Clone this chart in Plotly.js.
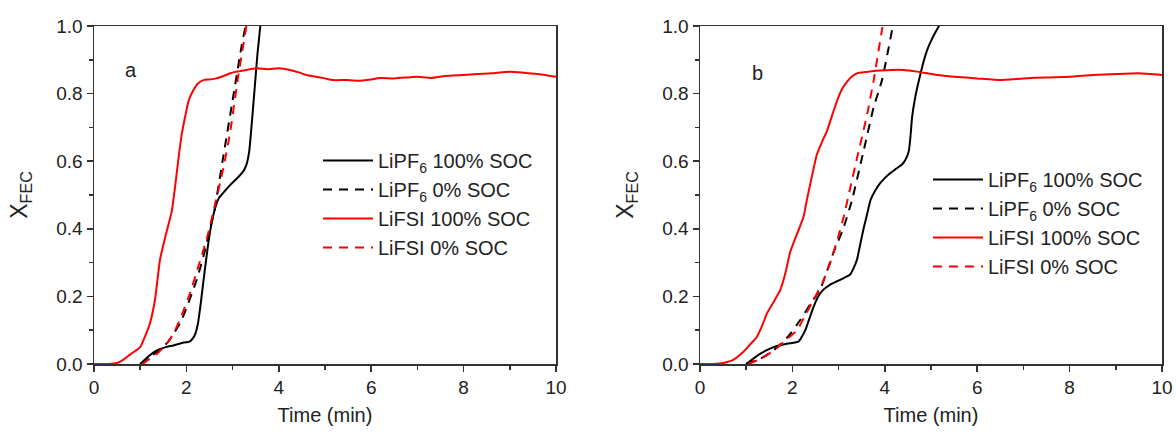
<!DOCTYPE html>
<html><head><meta charset="utf-8">
<script src="https://cdn.plot.ly/plotly-3.0.1.min.js"></script>
<style>html,body{margin:0;padding:0;background:#fff}#chart{width:1176px;height:432px}</style>
</head><body><div id="chart"></div>
<script>
// ---- Panel a ----
const aPF100_t = [1.0,1.2,1.36,1.55,1.72,1.9,2.08,2.18,2.25,2.32,2.4,2.51,2.6,2.7,2.82,2.95,3.1,3.23,3.3,3.36,3.42,3.48,3.54,3.6,3.62];
const aPF100_y = [0,0.025,0.04,0.05,0.055,0.062,0.067,0.085,0.12,0.19,0.28,0.39,0.45,0.49,0.51,0.53,0.55,0.57,0.59,0.63,0.72,0.82,0.92,1.0,1.03];
const aPF0_t = [1.0,1.2,1.4,1.6,1.86,2.0,2.2,2.29,2.4,2.51,2.6,2.8,3.0,3.2,3.28,3.32];
const aPF0_y = [0,0.02,0.04,0.065,0.12,0.165,0.24,0.28,0.335,0.40,0.45,0.615,0.78,0.945,1.0,1.03];
const aFS100_t = [0,0.3,0.5,0.63,0.8,1.0,1.1,1.21,1.32,1.43,1.55,1.68,1.76,1.83,1.9,1.97,2.05,2.15,2.25,2.37,2.5,2.65,2.8,2.95,3.09,3.3,3.52,3.75,4.0,4.24,4.45,4.6,4.8,5.0,5.17,5.46,5.7,6.0,6.19,6.5,6.8,7.0,7.3,7.6,8.0,8.3,8.6,9.0,9.3,9.6,10];
const aFS100_y = [0,0,0.003,0.012,0.03,0.05,0.08,0.12,0.19,0.31,0.38,0.45,0.53,0.61,0.68,0.73,0.78,0.81,0.83,0.84,0.842,0.845,0.852,0.86,0.865,0.87,0.875,0.872,0.875,0.87,0.862,0.855,0.85,0.845,0.84,0.84,0.838,0.842,0.846,0.845,0.848,0.85,0.846,0.852,0.855,0.858,0.86,0.865,0.862,0.858,0.85];
const aFS0_t = [1.05,1.2,1.4,1.57,1.72,1.9,2.08,2.25,2.44,2.6,2.8,2.94,3.12,3.3,3.34];
const aFS0_y = [0,0.015,0.035,0.06,0.09,0.145,0.21,0.285,0.37,0.46,0.58,0.68,0.85,1.0,1.03];
// ---- Panel b ----
const bPF100_t = [1.0,1.3,1.59,1.88,2.13,2.2,2.28,2.37,2.46,2.56,2.67,2.82,2.97,3.12,3.25,3.33,3.4,3.47,3.54,3.62,3.69,3.8,3.9,4.0,4.12,4.25,4.37,4.45,4.52,4.56,4.59,4.66,4.74,4.83,4.92,5.05,5.17,5.22];
const bPF100_y = [0,0.03,0.05,0.06,0.066,0.08,0.10,0.135,0.17,0.2,0.22,0.235,0.245,0.255,0.265,0.285,0.31,0.355,0.40,0.445,0.485,0.515,0.535,0.55,0.565,0.578,0.59,0.605,0.63,0.68,0.73,0.79,0.84,0.89,0.93,0.97,1.0,1.02];
const bPF0_t = [1.0,1.3,1.59,1.9,2.17,2.4,2.6,2.89,3.1,3.29,3.54,3.76,3.94,4.16,4.2];
const bPF0_y = [0,0.015,0.04,0.08,0.13,0.18,0.22,0.33,0.40,0.485,0.63,0.76,0.84,0.99,1.02];
const bFS100_t = [0,0.3,0.5,0.72,0.94,1.1,1.23,1.35,1.45,1.6,1.74,1.85,1.95,2.1,2.24,2.32,2.39,2.53,2.65,2.75,2.87,2.97,3.08,3.18,3.3,3.4,3.6,3.9,4.15,4.41,4.7,5.13,5.5,6.0,6.5,7.0,7.5,8.0,8.5,9.0,9.5,10];
const bFS100_y = [0,0,0.003,0.012,0.036,0.06,0.08,0.115,0.15,0.185,0.22,0.27,0.33,0.385,0.435,0.49,0.535,0.62,0.66,0.69,0.74,0.78,0.815,0.835,0.852,0.86,0.864,0.868,0.87,0.87,0.865,0.855,0.85,0.845,0.84,0.845,0.848,0.85,0.855,0.858,0.86,0.855];
const bFS0_t = [1.05,1.3,1.6,1.85,2.1,2.3,2.46,2.65,2.82,3.0,3.11,3.25,3.4,3.52,3.62,3.76,3.94,3.98];
const bFS0_y = [0,0.015,0.04,0.07,0.10,0.15,0.19,0.24,0.30,0.38,0.435,0.52,0.61,0.68,0.74,0.84,0.99,1.02];

const names = ['LiPF<sub>6</sub> 100% SOC','LiPF<sub>6</sub> 0% SOC','LiFSI 100% SOC','LiFSI 0% SOC'];
const colors = ['#000000','#000000','#ff0000','#ff0000'];
const dashes = ['solid','9px,7px','solid','9px,7px'];
const panels = [
  {xa:'x', ya:'y', lg:'legend', data:[[aPF100_t,aPF100_y],[aPF0_t,aPF0_y],[aFS100_t,aFS100_y],[aFS0_t,aFS0_y]]},
  {xa:'x2', ya:'y2', lg:'legend2', data:[[bPF100_t,bPF100_y],[bPF0_t,bPF0_y],[bFS100_t,bFS100_y],[bFS0_t,bFS0_y]]}
];
const traces = [];
panels.forEach((p,pi)=>{
  p.data.forEach((d,i)=>{
    traces.push({x:d[0], y:d[1], type:'scatter', mode:'lines', name:names[i],
      xaxis:p.xa, yaxis:p.ya, legend:p.lg,
      line:{color:colors[i], width:2, dash:dashes[i], shape:'spline', smoothing:0.5}, hoverinfo:'skip'});
  });
});

const fontFam = '"Liberation Sans", Arial, sans-serif';
const axX = (dom)=>({domain:dom, range:[0,10], dtick:2, tick0:0, ticks:'outside', ticklen:6, tickwidth:1.5, tickcolor:'#333',
  minor:{dtick:1, ticks:'outside', ticklen:4, tickwidth:1.5, tickcolor:'#333'},
  showline:true, linecolor:'#333', linewidth:1.5, mirror:true, showgrid:false, zeroline:false,
  tickfont:{size:19, color:'#222', family:fontFam},
  title:{text:'Time (min)', font:{size:20, color:'#222', family:fontFam}, standoff:10}});
const axY = (anchor)=>({domain:[0,1], range:[0,1], dtick:0.2, tick0:0, tickformat:'.1f', ticks:'outside', ticklen:6, tickwidth:1.5, tickcolor:'#333',
  minor:{dtick:0.1, ticks:'outside', ticklen:4, tickwidth:1.5, tickcolor:'#333'},
  showline:true, linecolor:'#333', linewidth:1.5, mirror:true, showgrid:false, zeroline:false, anchor:anchor,
  tickfont:{size:19, color:'#222', family:fontFam},
  title:{text:'X<sub>FEC</sub>', font:{size:23, color:'#222', family:fontFam}, standoff:22}});

const legendBase = {bgcolor:'rgba(0,0,0,0)', font:{size:20, color:'#222', family:fontFam}, traceorder:'normal', tracegroupgap:0, itemwidth:50, xanchor:'left', yanchor:'top'};
const layout = {
  width:1176, height:432, margin:{l:0, r:0, t:26, b:68}, paper_bgcolor:'#fff', plot_bgcolor:'#fff',
  font:{family:fontFam, color:'#222'},
  xaxis: Object.assign(axX([94/1176, 556/1176]), {anchor:'y'}),
  yaxis: axY('x'),
  xaxis2: Object.assign(axX([700/1176, 1162/1176]), {anchor:'y2'}),
  yaxis2: axY('x2'),
  legend: Object.assign({}, legendBase, {x:318/1176, y:(364-141)/338}),
  legend2: Object.assign({}, legendBase, {x:928/1176, y:(364-160)/338}),
  annotations:[
    {text:'a', x:0.8, y:0.87, xref:'x', yref:'y', showarrow:false, font:{size:20, color:'#222', family:fontFam}},
    {text:'b', x:1.24, y:0.86, xref:'x2', yref:'y2', showarrow:false, font:{size:20, color:'#222', family:fontFam}}
  ],
  showlegend:true
};
Plotly.newPlot('chart', traces, layout, {staticPlot:true, displayModeBar:false});
</script></body></html>
